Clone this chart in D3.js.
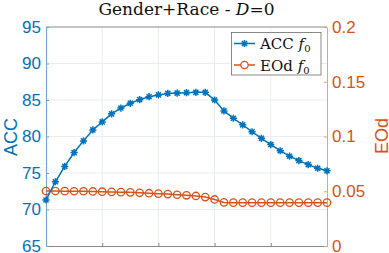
<!DOCTYPE html>
<html>
<head>
<meta charset="utf-8">
<script src="https://cdn.jsdelivr.net/npm/d3@7/dist/d3.min.js"></script>
<style>
  body { margin: 0; background: #fff; }
  svg { display: block; }
</style>
</head>
<body>
<div id="chart"></div>
<script>
// step index along the x axis (no tick labels in the figure)
var steps = d3.range(0, 31);
var accValues = [71.3, 73.8, 75.9, 77.8, 79.4, 80.9, 82.0, 83.1, 83.9, 84.55,
                 85.05, 85.45, 85.7, 85.9, 85.95, 86.0, 86.05, 86.05, 85.0, 83.5,
                 82.5, 81.6, 80.65, 79.75, 78.9, 78.05, 77.3, 76.7, 76.15, 75.65, 75.3];
var eodValues = [0.0502, 0.0502, 0.0501, 0.0500, 0.0500, 0.0498, 0.0496, 0.0494, 0.0492, 0.0490,
                 0.0486, 0.0482, 0.0478, 0.0474, 0.0468, 0.0463, 0.0457, 0.0447, 0.0425, 0.0398,
                 0.0396, 0.0396, 0.0396, 0.0396, 0.0396, 0.0396, 0.0396, 0.0396, 0.0396, 0.0396, 0.0396];
var accTicks = [65, 70, 75, 80, 85, 90, 95];
var eodTicks = [0, 0.05, 0.1, 0.15, 0.2];
var xTicks = [0, 6, 12, 18, 24, 30];

var blue = "#0072BD", orange = "#D95319";

var margin = { top: 27, right: 62, bottom: 7, left: 46 },
    width = 389 - margin.left - margin.right,
    height = 253 - margin.top - margin.bottom;

var svg = d3.select("#chart").append("svg")
    .attr("width", 389)
    .attr("height", 253);
var g = svg.append("g")
    .attr("transform", "translate(" + margin.left + "," + margin.top + ")");

var x = d3.scaleLinear().domain([0, 30]).range([0, width]);
var yAcc = d3.scaleLinear().domain([65, 95]).range([height, 0]);
var yEod = d3.scaleLinear().domain([0, 0.2]).range([height, 0]);

// grid
g.selectAll(".vgrid").data(xTicks.slice(1, -1)).enter().append("line")
    .attr("x1", function(d) { return x(d); }).attr("x2", function(d) { return x(d); })
    .attr("y1", 0).attr("y2", height)
    .attr("stroke", "#e8edf2").attr("stroke-width", 1);
g.selectAll(".hgrid").data(accTicks.slice(1, -1)).enter().append("line")
    .attr("x1", 0).attr("x2", width)
    .attr("y1", function(d) { return yAcc(d); }).attr("y2", function(d) { return yAcc(d); })
    .attr("stroke", "#e8edf2").attr("stroke-width", 1);

// axes
var xAxis = g.append("g").attr("transform", "translate(0," + height + ")")
    .call(d3.axisBottom(x).tickValues(xTicks).tickSizeInner(-3).tickSizeOuter(0).tickFormat(""));
xAxis.select(".domain").attr("stroke", "#8a8a8a");
xAxis.selectAll(".tick line").attr("stroke", "#8a8a8a");

g.append("line").attr("x1", 0).attr("x2", width).attr("y1", 0).attr("y2", 0)
    .attr("stroke", "#8a8a8a");

var leftAxis = g.append("g")
    .call(d3.axisLeft(yAcc).tickValues(accTicks).tickSizeInner(-3).tickSizeOuter(0).tickPadding(5));
leftAxis.select(".domain").attr("stroke", "#6aa6d6");
leftAxis.selectAll(".tick line").attr("stroke", "#6aa6d6");
leftAxis.selectAll("text").attr("fill", blue)
    .style("font-family", "'Liberation Sans', Arial, sans-serif").style("font-size", "17px");

var rightAxis = g.append("g").attr("transform", "translate(" + width + ",0)")
    .call(d3.axisRight(yEod).tickValues(eodTicks).tickSizeInner(-3).tickSizeOuter(0).tickPadding(5)
        .tickFormat(function(d) { return String(d); }));
rightAxis.select(".domain").attr("stroke", "#eba080");
rightAxis.selectAll(".tick line").attr("stroke", "#eba080");
rightAxis.selectAll("text").attr("fill", orange)
    .style("font-family", "'Liberation Sans', Arial, sans-serif").style("font-size", "17px");

// axis labels
svg.append("text").attr("transform", "translate(17,137) rotate(-90)")
    .attr("text-anchor", "middle").attr("fill", blue)
    .style("font-family", "'Liberation Sans', Arial, sans-serif").style("font-size", "18px")
    .text("ACC");
svg.append("text").attr("transform", "translate(388,136) rotate(-90)")
    .attr("text-anchor", "middle").attr("fill", orange)
    .style("font-family", "'Liberation Sans', Arial, sans-serif").style("font-size", "18px")
    .text("EOd");

// title
var title = svg.append("text").attr("x", 186.5).attr("y", 15).attr("text-anchor", "middle")
    .attr("fill", "#111")
    .style("font-family", "'DejaVu Serif', serif").style("font-size", "17px");
title.append("tspan").text("Gender+Race - ");
title.append("tspan").style("font-style", "italic").text("D");
title.append("tspan").text("=0");

// markers
function asterisk(s) {
    var d = s * 0.7071;
    return "M" + (-s) + ",0L" + s + ",0M0," + (-s) + "L0," + s +
        "M" + (-d) + "," + (-d) + "L" + d + "," + d + "M" + (-d) + "," + d + "L" + d + "," + (-d);
}

var accLine = d3.line().x(function(d, i) { return x(steps[i]); }).y(function(d) { return yAcc(d); });
var eodLine = d3.line().x(function(d, i) { return x(steps[i]); }).y(function(d) { return yEod(d); });

g.append("path").datum(eodValues).attr("d", eodLine)
    .attr("fill", "none").attr("stroke", orange).attr("stroke-width", 1.5);
g.selectAll(".eodpt").data(eodValues).enter().append("circle")
    .attr("cx", function(d, i) { return x(steps[i]); })
    .attr("cy", function(d) { return yEod(d); })
    .attr("r", 3.7).attr("fill", "none").attr("stroke", orange).attr("stroke-width", 1.3);

g.append("path").datum(accValues).attr("d", accLine)
    .attr("fill", "none").attr("stroke", blue).attr("stroke-width", 1.5);
g.selectAll(".accpt").data(accValues).enter().append("path")
    .attr("transform", function(d, i) { return "translate(" + x(steps[i]) + "," + yAcc(d) + ")"; })
    .attr("d", asterisk(3.6)).attr("fill", "none").attr("stroke", blue).attr("stroke-width", 1.5);

// legend
var legend = svg.append("g");
legend.append("rect").attr("x", 231.5).attr("y", 32.5).attr("width", 89.5).attr("height", 42.5)
    .attr("fill", "#fff").attr("stroke", "#6b6b6b").attr("stroke-width", 0.8);
var items = [
    { name: "ACC", color: blue, y: 43.5, marker: "star" },
    { name: "EOd", color: orange, y: 65, marker: "circle" }
];
items.forEach(function(it) {
    legend.append("line").attr("x1", 234).attr("x2", 255).attr("y1", it.y).attr("y2", it.y)
        .attr("stroke", it.color).attr("stroke-width", 1.5);
    if (it.marker === "star") {
        legend.append("path").attr("transform", "translate(244.5," + it.y + ")")
            .attr("d", asterisk(3.6)).attr("fill", "none").attr("stroke", it.color).attr("stroke-width", 1.5);
    } else {
        legend.append("circle").attr("cx", 244.5).attr("cy", it.y).attr("r", 3.7)
            .attr("fill", "#fff").attr("stroke", it.color).attr("stroke-width", 1.3);
    }
    var t = legend.append("text").attr("x", 260).attr("y", it.y + 5.5).attr("fill", "#111")
        .style("font-family", "'DejaVu Serif', serif").style("font-size", "15px");
    t.append("tspan").text(it.name + " ");
    t.append("tspan").style("font-style", "italic").text("f");
    t.append("tspan").attr("dy", 3).style("font-size", "10px").text("0");
});
</script>
</body>
</html>
